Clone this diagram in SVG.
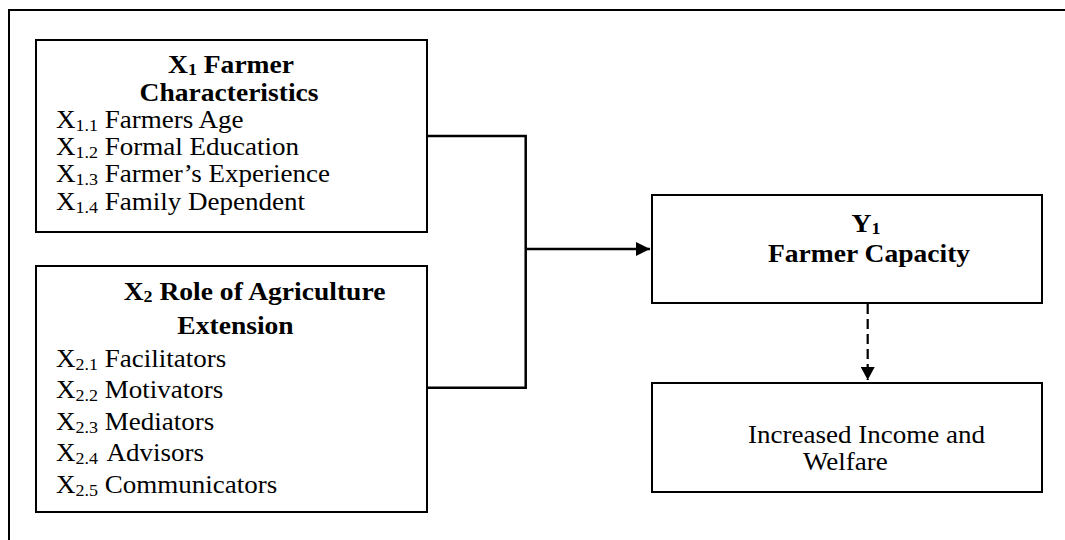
<svg xmlns="http://www.w3.org/2000/svg" width="1065" height="540" viewBox="0 0 1065 540">
<style>
.box{fill:#fff;stroke:#000;stroke-width:2}
.frame{fill:none;stroke:#000;stroke-width:2}
.conn{fill:none;stroke:#000;stroke-width:2.5}
.dash{fill:none;stroke:#000;stroke-width:2.2;stroke-dasharray:10 5}
text{font-family:"Liberation Serif","Times New Roman",serif;fill:#000}
.b{font-weight:bold;font-size:26px}
.r{font-size:25.5px}
.s{font-size:17px}
.mid{text-anchor:middle}
</style>
<defs>
<marker id="ah" markerWidth="14" markerHeight="14" refX="14" refY="7" orient="auto" markerUnits="userSpaceOnUse">
<path d="M0,0 L14,7 L0,14 z" fill="#000"/>
</marker>
<marker id="ahd" markerWidth="14" markerHeight="14" refX="13" refY="7" orient="auto" markerUnits="userSpaceOnUse">
<path d="M0,0 L13,7 L0,14 z" fill="#000"/>
</marker>
</defs>
<rect class="frame" x="9" y="10" width="1100" height="600"/>
<g id="connectors">
<path class="conn" d="M427,136 H525.7 V387.7 H427"/>
<path class="conn" d="M525.7,249 H650" marker-end="url(#ah)"/>
<path class="dash" d="M867.7,304 V380" marker-end="url(#ahd)"/>
</g>
<g id="x1">
<rect class="box" x="36" y="40" width="391" height="192"/>
<text class="b mid" transform="translate(231,73) scale(1.06,1)">X<tspan class="s" dy="2">1</tspan><tspan dy="-2"> Farmer</tspan></text>
<text class="b mid" transform="translate(229,101) scale(1.06,1)">Characteristics</text>
<text class="r" transform="translate(56,128) scale(1.06,1)">X<tspan class="s" dy="3">1.1</tspan><tspan dy="-3"> Farmers Age</tspan></text>
<text class="r" transform="translate(56,155) scale(1.06,1)">X<tspan class="s" dy="3">1.2</tspan><tspan dy="-3"> Formal Education</tspan></text>
<text class="r" transform="translate(56,182) scale(1.06,1)">X<tspan class="s" dy="3">1.3</tspan><tspan dy="-3"> Farmer’s Experience</tspan></text>
<text class="r" transform="translate(56,210) scale(1.06,1)">X<tspan class="s" dy="3">1.4</tspan><tspan dy="-3"> Family Dependent</tspan></text>
</g>
<g id="x2">
<rect class="box" x="36" y="266" width="391" height="246"/>
<text class="b mid" transform="translate(254.5,300) scale(1.06,1)">X<tspan class="s" dy="2">2</tspan><tspan dy="-2"> Role of Agriculture</tspan></text>
<text class="b mid" transform="translate(235.5,334) scale(1.06,1)">Extension</text>
<text class="r" transform="translate(56,367) scale(1.06,1)">X<tspan class="s" dy="3">2.1</tspan><tspan dy="-3"> Facilitators</tspan></text>
<text class="r" transform="translate(56,398) scale(1.06,1)">X<tspan class="s" dy="3">2.2</tspan><tspan dy="-3"> Motivators</tspan></text>
<text class="r" transform="translate(56,430) scale(1.06,1)">X<tspan class="s" dy="3">2.3</tspan><tspan dy="-3"> Mediators</tspan></text>
<text class="r" transform="translate(56,461) scale(1.06,1)">X<tspan class="s" dy="3">2.4</tspan><tspan dy="-3" dx="3"> Advisors</tspan></text>
<text class="r" transform="translate(56,493) scale(1.06,1)">X<tspan class="s" dy="3">2.5</tspan><tspan dy="-3"> Communicators</tspan></text>
</g>
<g id="y1">
<rect class="box" x="652" y="195" width="390" height="108"/>
<text class="b mid" transform="translate(866,232) scale(1.06,1)">Y<tspan class="s" dy="2">1</tspan></text>
<text class="b mid" transform="translate(869,262) scale(1.06,1)">Farmer Capacity</text>
</g>
<g id="outcome">
<rect class="box" x="652" y="383" width="390" height="109"/>
<text class="r" transform="translate(748,443) scale(1.06,1)">Increased Income and</text>
<text class="r" transform="translate(803,470) scale(1.06,1)">Welfare</text>
</g>
</svg>
